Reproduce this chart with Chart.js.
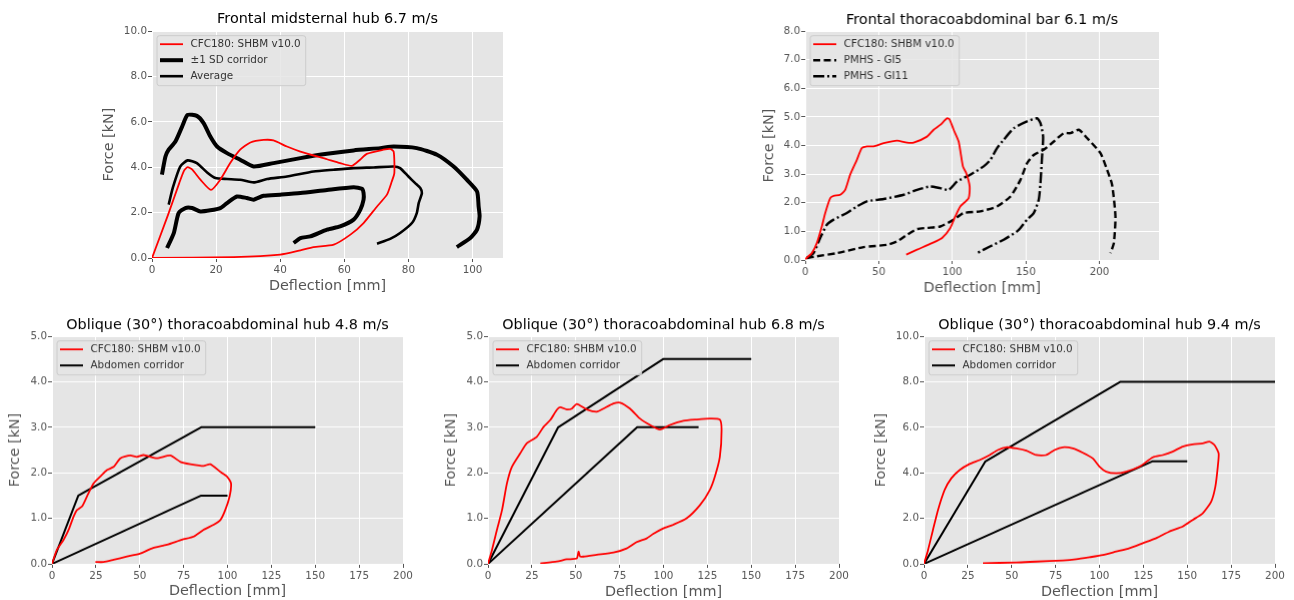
<!DOCTYPE html>
<html><head><meta charset="utf-8">
<script src="https://cdn.jsdelivr.net/npm/chart.js@4"></script>
<style>
html,body{margin:0;padding:0;background:#fff;overflow:hidden;}
#wrap{position:relative;width:1294px;height:600px;overflow:hidden;}
canvas{position:absolute;}
</style></head><body><div id="wrap"></div>
<script>
// ---------------- DATA ----------------
const xLabel = 'Deflection [mm]';
const yLabel = 'Force [kN]';
const titles = ['Frontal midsternal hub 6.7 m/s','Frontal thoracoabdominal bar 6.1 m/s',
  'Oblique (30°) thoracoabdominal hub 4.8 m/s','Oblique (30°) thoracoabdominal hub 6.8 m/s','Oblique (30°) thoracoabdominal hub 9.4 m/s'];
const labelSHBM = 'CFC180: SHBM v10.0';

// Plot 1: frontal midsternal hub
const p1_shbm_x = [0,5,8.5,10,11.1,12.5,15.1,18.4,21.3,24.4,27.5,30.7,34.8,37.9,42.1,46.3,54.6,58.7,62.4,64.9,67,72.2,74.3,75.4,75.6,74.8,73.3,70.2,66,61.9,56.7,50.4,46.3,40,25.5,0];
const p1_shbm_y = [0,1.9,3.3,3.85,4.0,3.9,3.45,3.0,3.45,4.18,4.77,5.09,5.2,5.18,4.91,4.69,4.35,4.18,4.06,4.33,4.59,4.77,4.81,4.69,3.74,3.37,2.79,2.27,1.54,1.03,0.59,0.48,0.34,0.15,0.04,0];
const p1_upper_x = [3.1,4.2,5.2,7.3,9.4,11.1,14,16.1,18.2,20.3,23.4,27.5,31.7,37.9,46.3,54.6,62.9,71.2,75.4,82.6,88.9,94.1,98.2,101.4,101.9,102.2,101.4,99.3,95.1];
const p1_upper_y = [3.67,4.47,4.77,5.13,5.79,6.3,6.26,5.94,5.35,4.91,4.62,4.33,4.03,4.18,4.4,4.59,4.74,4.84,4.91,4.84,4.55,4.03,3.45,2.93,2.27,1.83,1.25,0.88,0.48];
const p1_lower_x = [4.7,6.8,8.3,10.4,12.5,15.1,18.2,21.3,23.4,26.5,29.6,31.7,34.8,40,46.3,54.6,62.9,65.5,66,66,65,62.9,58.7,54.6,49.4,46.3,44.2];
const p1_lower_y = [0.44,1.1,1.98,2.2,2.2,2.05,2.1,2.2,2.42,2.71,2.64,2.57,2.74,2.79,2.86,3.0,3.12,3.05,2.86,2.57,2.13,1.69,1.39,1.25,0.95,0.88,0.66];
const p1_avg_x = [5.2,6.5,8.8,11.1,14,17.2,19.8,23.4,27.5,31.7,35.9,42.1,50.4,56.7,62.9,69.1,75.4,77.4,80,82.1,83.7,84.2,83.2,82.6,81.1,77.4,74.3,70.2];
const p1_avg_y = [2.35,3.1,4.03,4.3,4.18,3.77,3.52,3.48,3.45,3.33,3.48,3.59,3.81,3.89,3.96,3.99,4.03,3.96,3.59,3.3,3.08,2.86,2.42,1.98,1.54,1.1,0.84,0.63];

// Plot 2: frontal thoracoabdominal bar
const p2_shbm_x = [0,4.5,7.9,11.3,13.6,17,19.3,23.8,27.2,30.6,35.1,38.5,42,46.5,53.3,62.4,69.2,73.7,82.8,87.3,91.8,96.4,98,100.9,104.3,107.2,109.5,111.8,111.1,105.4,102,98.6,93,86.2,76,68.7];
const p2_shbm_y = [0.03,0.24,0.59,1.17,1.64,2.16,2.24,2.28,2.45,2.98,3.5,3.91,3.97,3.97,4.08,4.17,4.1,4.1,4.31,4.55,4.72,4.95,4.92,4.55,4.14,3.27,3.03,2.57,2.16,1.87,1.52,1.12,0.77,0.59,0.36,0.19];
const p2_gi5_x = [1.1,7.9,21.5,39.7,55.6,62.4,69.2,76,82.8,91.8,100.9,107.7,119,130.4,139.5,146.3,150.8,155.3,162.1,169,175.7,180.3,186,191.6,200.7,205.2,208.6,210.9,209.8,207.5];
const p2_gi5_y = [0.07,0.13,0.24,0.45,0.53,0.65,0.88,1.08,1.12,1.17,1.41,1.64,1.7,1.87,2.22,2.8,3.38,3.67,3.85,4.14,4.43,4.43,4.55,4.26,3.73,3.15,2.63,1.52,0.59,0.24];
const p2_gi11_x = [1.1,5.7,10.2,14.7,19.3,28.3,35.1,42,53.3,66.9,76,85,91.8,97.5,103.2,112.2,121.3,125.9,130.4,134.9,141.7,150.8,157.6,159.9,161.7,161,159.9,158.7,155.3,150.8,146.3,144,134.9,125.9,116.8];
const p2_gi11_y = [0.07,0.24,0.77,1.23,1.41,1.64,1.87,2.05,2.13,2.28,2.45,2.57,2.51,2.45,2.74,2.98,3.27,3.5,3.91,4.2,4.6,4.84,4.95,4.78,4.31,3.62,2.69,2.1,1.64,1.41,1.12,1.0,0.71,0.48,0.24];

// Plot 3: oblique 4.8 m/s
const p3_shbm_x = [0,2.8,6.6,9.5,12.3,14.2,17.1,19.9,23.7,27.5,31.3,35.1,39,44.6,48.4,52.2,59.8,67.4,73.2,78.8,86.4,90.2,95.9,99.7,102,101.2,98.7,95.9,92.1,86.4,80.7,74.1,65.5,57,50.3,42.7,35.1,29.4,24.7];
const p3_shbm_y = [0,0.31,0.53,0.75,1.04,1.18,1.26,1.48,1.77,1.92,2.06,2.13,2.32,2.38,2.35,2.39,2.32,2.38,2.24,2.19,2.15,2.19,2.02,1.92,1.77,1.48,1.18,0.96,0.86,0.75,0.6,0.53,0.42,0.34,0.23,0.16,0.09,0.04,0.04];
const p3_corrUp_x = [0,15,85,150];
const p3_corrUp_y = [0,1.5,3.0,3.0];
const p3_corrLo_x = [0,85,100];
const p3_corrLo_y = [0,1.5,1.5];

// Plot 4: oblique 6.8 m/s
const p4_shbm_x = [0,2.3,5.1,8,10.8,13.6,18.4,22.2,27.8,31.7,35.5,39.2,41.1,44.9,47.8,50.6,56.3,62,65.8,71.5,75.3,80.9,86.6,92.3,98,103.7,111.3,118.9,126.4,132.1,133.1,132.1,129.3,126.4,120.8,113.2,105.6,99.9,94.2,90.4,84.7,79,71.5,62,54.4,52.5,51.6,50.6,44.9,39.2,29.8];
const p4_shbm_y = [0,0.31,0.75,1.18,1.77,2.13,2.43,2.65,2.79,3.01,3.16,3.38,3.44,3.39,3.41,3.51,3.39,3.34,3.41,3.52,3.54,3.41,3.19,3.05,2.95,3.05,3.14,3.17,3.19,3.17,2.94,2.35,1.92,1.62,1.29,1.0,0.86,0.78,0.66,0.56,0.48,0.34,0.25,0.2,0.16,0.16,0.27,0.12,0.1,0.05,0.01];
const p4_corrUp_x = [0,40,100,150];
const p4_corrUp_y = [0,3.0,4.5,4.5];
const p4_corrLo_x = [0,85,120];
const p4_corrLo_y = [0,3.0,3.0];

// Plot 5: oblique 9.4 m/s
const p5_shbm_x = [0,2.3,5.1,8,11.8,15.6,20.3,26,31.7,37.4,42.1,46.9,52.6,58.3,63.9,69.6,74.4,79.1,84.8,90.5,96.2,100,103.8,109.5,115.2,122.8,130.4,136.1,141.7,147.4,153.1,158.8,162.6,165.5,167.9,167.4,166,163.6,158.8,153.1,147.4,139.8,132.3,124.7,117.1,109.5,101.9,94.3,86.7,79.1,63.9,52.6,33.6];
const p5_shbm_y = [0,0.61,1.49,2.37,3.25,3.76,4.12,4.39,4.56,4.78,5.0,5.12,5.07,4.97,4.78,4.78,5.0,5.12,5.07,4.88,4.63,4.27,4.05,3.98,4.05,4.27,4.68,4.78,4.93,5.15,5.25,5.29,5.37,5.22,4.85,4.27,3.39,2.73,2.22,1.93,1.64,1.42,1.13,0.91,0.69,0.54,0.39,0.29,0.2,0.15,0.1,0.06,0.03];
const p5_corrUp_x = [0,35,112,200];
const p5_corrUp_y = [0,4.5,8.0,8.0];
const p5_corrLo_x = [0,130,150];
const p5_corrLo_y = [0,4.5,4.5];

// ---------------- HELPERS ----------------
Chart.defaults.font.family = "'DejaVu Sans', sans-serif";
const FONT_T = 14.4, LH = 1.2, FONT_TICK = 10.4;
const wrap = document.getElementById('wrap');
const pts = (xs, ys) => xs.map((x, i) => ({x: x, y: ys[i]}));
function line(label, xs, ys, color, width, dash, tension) {
  return {label: label, data: pts(xs, ys), showLine: true, pointRadius: 0, pointHoverRadius: 0,
    borderColor: color, backgroundColor: color, borderWidth: width, borderDash: dash || [],
    tension: tension === undefined ? 0.2 : tension, borderJoinStyle: 'round', fill: false};
}

const bgPlugin = {
  id: 'bgPlugin',
  beforeDraw(chart) {
    const a = chart.chartArea, ctx = chart.ctx;
    ctx.save(); ctx.fillStyle = '#E5E5E5';
    ctx.fillRect(a.left, a.top, a.right - a.left, a.bottom - a.top);
    ctx.restore();
  }
};
const boxLegend = {
  id: 'boxLegend',
  afterDatasetsDraw(chart) {
    const items = chart.data.datasets.filter(d => d.label && d.label[0] !== '_');
    const ctx = chart.ctx, a = chart.chartArea;
    ctx.save();
    ctx.font = FONT_TICK + "px 'DejaVu Sans'";
    const tw = Math.max.apply(null, items.map(d => ctx.measureText(d.label).width));
    const x0 = a.left + 5, y0 = a.top + 4.7;
    const w = 33.5 + tw + 5, h = 16 * items.length + 2;
    ctx.beginPath();
    if (ctx.roundRect) ctx.roundRect(x0, y0, w, h, 2.5); else ctx.rect(x0, y0, w, h);
    ctx.fillStyle = 'rgba(229,229,229,0.85)'; ctx.fill();
    ctx.lineWidth = 1; ctx.strokeStyle = '#CCCCCC'; ctx.stroke();
    items.forEach((d, i) => {
      const yy = y0 + 8.5 + i * 16;
      ctx.beginPath();
      ctx.setLineDash(d.borderDash || []);
      ctx.lineWidth = d.borderWidth; ctx.strokeStyle = d.borderColor; ctx.lineCap = 'butt';
      ctx.moveTo(x0 + 3, yy); ctx.lineTo(x0 + 26, yy); ctx.stroke();
      ctx.setLineDash([]);
      ctx.fillStyle = '#333'; ctx.textBaseline = 'middle'; ctx.textAlign = 'left';
      ctx.fillText(d.label, x0 + 33.5, yy + 0.5);
    });
    ctx.restore();
  }
};

function makePlot(s) {
  const cx = s.area.l - 100, cy = s.area.t - 36;
  const cw = Math.min(s.area.r + 18, 1294) - cx, ch = s.area.b + 44 - cy;
  const c = document.createElement('canvas');
  c.width = cw; c.height = ch;
  c.style.left = cx + 'px'; c.style.top = cy + 'px';
  c.style.width = cw + 'px'; c.style.height = ch + 'px';
  wrap.appendChild(c);
  const th = FONT_T * LH;
  new Chart(c, {
    type: 'scatter',
    data: {datasets: s.datasets},
    options: {
      responsive: false, animation: false, devicePixelRatio: 1,
      events: [],
      layout: {padding: {left: 0, top: 0, right: cx + cw - s.area.r, bottom: 0}},
      plugins: {
        legend: {display: false}, tooltip: {enabled: false},
        title: {display: true, text: s.title, fullSize: false, color: '#000',
          font: {size: FONT_T, lineHeight: LH, weight: 'normal'},
          padding: {top: s.titleY - cy - th / 2, bottom: s.area.t - s.titleY - th / 2}}
      },
      scales: {
        x: {type: 'linear', position: 'bottom', min: 0, max: s.xMax,
          afterFit: sc => { sc.height = cy + ch - s.area.b; },
          ticks: {stepSize: s.xStep, includeBounds: false, autoSkip: false, maxRotation: 0,
            color: '#555', font: {size: FONT_TICK}, padding: 2, callback: v => String(v)},
          grid: {color: '#FFFFFF', lineWidth: 1, tickColor: '#555', tickLength: 4, tickWidth: 1},
          border: {display: false},
          title: {display: true, text: xLabel, color: '#555', font: {size: FONT_T, lineHeight: LH},
            padding: {top: 0, bottom: cy + ch - s.xTitleY - th / 2}}},
        y: {type: 'linear', position: 'left', min: 0, max: s.yMax,
          afterFit: sc => { sc.width = s.area.l - cx; },
          ticks: {stepSize: s.yStep, includeBounds: false, autoSkip: false,
            color: '#555', font: {size: FONT_TICK}, padding: 1, callback: v => v.toFixed(1)},
          grid: {color: '#FFFFFF', lineWidth: 1, tickColor: '#555', tickLength: 4, tickWidth: 1},
          border: {display: false},
          title: {display: true, text: yLabel, color: '#555', font: {size: FONT_T, lineHeight: LH},
            padding: {top: s.yTitleX - cx - th / 2, bottom: 0}}}
      }
    },
    plugins: [bgPlugin, boxLegend]
  });
}

// ---------------- PLOTS ----------------
makePlot({title: titles[0], area: {l: 151.7, t: 31, r: 502.7, b: 258.4}, titleY: 19.5, yTitleX: 109.3, xTitleY: 286.7,
  xMax: 109.5, xStep: 20, yMax: 10, yStep: 2,
  datasets: [
    line(labelSHBM, p1_shbm_x, p1_shbm_y, '#FF0000', 1.8),
    line('±1 SD corridor', p1_upper_x, p1_upper_y, '#000000', 4),
    line('Average', p1_avg_x, p1_avg_y, '#000000', 2.6),
    line('_sd_lower', p1_lower_x, p1_lower_y, '#000000', 4)
  ]});

makePlot({title: titles[1], area: {l: 805, t: 31, r: 1158.7, b: 260.2}, titleY: 20, yTitleX: 769.3, xTitleY: 288.3,
  xMax: 240.5, xStep: 50, yMax: 8, yStep: 1,
  datasets: [
    line(labelSHBM, p2_shbm_x, p2_shbm_y, '#FF0000', 1.8),
    line('PMHS - GI5', p2_gi5_x, p2_gi5_y, '#000000', 2.4, [7, 3.5]),
    line('PMHS - GI11', p2_gi11_x, p2_gi11_y, '#000000', 2.4, [11, 3, 2, 3])
  ]});

makePlot({title: titles[2], area: {l: 51.7, t: 336.2, r: 402.7, b: 564}, titleY: 325, yTitleX: 15, xTitleY: 591.7,
  xMax: 200, xStep: 25, yMax: 5, yStep: 1,
  datasets: [
    line(labelSHBM, p3_shbm_x, p3_shbm_y, '#FF0000', 1.8),
    line('Abdomen corridor', p3_corrUp_x, p3_corrUp_y, '#000000', 2, [], 0),
    line('_corr_lower', p3_corrLo_x, p3_corrLo_y, '#000000', 2, [], 0)
  ]});

makePlot({title: titles[3], area: {l: 487.7, t: 336.2, r: 839.3, b: 564}, titleY: 325, yTitleX: 451, xTitleY: 592.5,
  xMax: 200, xStep: 25, yMax: 5, yStep: 1,
  datasets: [
    line(labelSHBM, p4_shbm_x, p4_shbm_y, '#FF0000', 1.8),
    line('Abdomen corridor', p4_corrUp_x, p4_corrUp_y, '#000000', 2, [], 0),
    line('_corr_lower', p4_corrLo_x, p4_corrLo_y, '#000000', 2, [], 0)
  ]});

makePlot({title: titles[4], area: {l: 924.3, t: 336.2, r: 1275.4, b: 564}, titleY: 325, yTitleX: 882, xTitleY: 592,
  xMax: 200, xStep: 25, yMax: 10, yStep: 2,
  datasets: [
    line(labelSHBM, p5_shbm_x, p5_shbm_y, '#FF0000', 1.8),
    line('Abdomen corridor', p5_corrUp_x, p5_corrUp_y, '#000000', 2, [], 0),
    line('_corr_lower', p5_corrLo_x, p5_corrLo_y, '#000000', 2, [], 0)
  ]});
</script>
</body></html>
